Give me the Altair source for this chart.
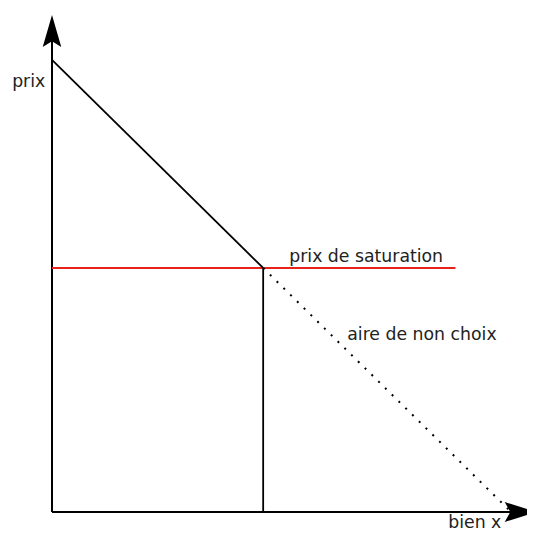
import altair as alt
import pandas as pd

# economic values (quantity q on x, price p on y)
demand_q = [0, 4.37]
demand_p = [9.08, 4.9]
dotted_q = [4.37, 9.45]
dotted_p = [4.9, 0.05]
sat_q = [0, 8.35]
sat_p = [4.9, 4.9]
x_max = 9.83
y_max = 10
y_axis_end = 9.6
x_axis_end = 9.6
up_arrow_p = 9.66
right_arrow_q = 9.7

labels = ["prix", "prix de saturation", "aire de non choix", "bien x"]
label_q = [-0.14, 4.91, 6.11, 8.2]
label_p = [8.63, 5.12, 3.55, -0.32]
label_align = ["right", "left", "left", "left"]
label_base = ["middle", "middle", "middle", "alphabetic"]

xs = alt.Scale(domain=[0, x_max], nice=False, zero=False)
ys = alt.Scale(domain=[0, y_max], nice=False, zero=False)
X = lambda f: alt.X(f, type="quantitative", scale=xs, axis=None)
Y = lambda f: alt.Y(f, type="quantitative", scale=ys, axis=None)

axes_df = pd.DataFrame({"q": [0, 0], "p": [0, 0], "q2": [0, x_axis_end], "p2": [y_axis_end, 0]})
axes = alt.Chart(axes_df).mark_rule(color="black", strokeWidth=2).encode(
    x=X("q"), y=Y("p"), x2="q2", y2="p2")

up_arrow = alt.Chart(pd.DataFrame({"q": [0], "p": [up_arrow_p]})).mark_point(
    shape="M0,-1L0.58,1L0,0.65L-0.58,1Z", size=1024, filled=True, color="black", opacity=1
).encode(x=X("q"), y=Y("p"))
right_arrow = alt.Chart(pd.DataFrame({"q": [right_arrow_q], "p": [0]})).mark_point(
    shape="M1,0L-1,0.62L-0.65,0L-1,-0.62Z", size=1024, filled=True, color="black", opacity=1
).encode(x=X("q"), y=Y("p"))

demand = alt.Chart(pd.DataFrame({"q": demand_q, "p": demand_p})).mark_line(
    color="black", strokeWidth=1.8).encode(x=X("q"), y=Y("p"))
dotted = alt.Chart(pd.DataFrame({"q": dotted_q, "p": dotted_p})).mark_line(
    color="black", strokeWidth=2, strokeDash=[2, 7.5]).encode(x=X("q"), y=Y("p"))
sat = alt.Chart(pd.DataFrame({"q": sat_q, "p": sat_p})).mark_line(
    color="#e8231c", strokeWidth=1.8).encode(x=X("q"), y=Y("p"))
vert = alt.Chart(pd.DataFrame({"q": [demand_q[1]], "p": [0], "p2": [demand_p[1]]})).mark_rule(
    color="black", strokeWidth=1.8).encode(x=X("q"), y=Y("p"), y2="p2")

lab_df = pd.DataFrame({"t": labels, "q": label_q, "p": label_p, "a": label_align, "b": label_base})
texts = []
for (al, bl), sub in lab_df.groupby(["a", "b"]):
    texts.append(alt.Chart(sub).mark_text(
        align=al, baseline=bl, font="DejaVu Sans", fontSize=17.3, color="#222"
    ).encode(x=X("q"), y=Y("p"), text="t"))

chart = alt.layer(axes, sat, demand, dotted, vert, up_arrow, right_arrow, *texts).properties(
    width=475, height=498,
    autosize=alt.AutoSizeParams(type="none"),
    padding={"left": 44, "top": 6, "right": 0, "bottom": 19},
).configure_view(stroke=None)

chart.save("out.html", embed_options={"renderer": "svg", "actions": False})
